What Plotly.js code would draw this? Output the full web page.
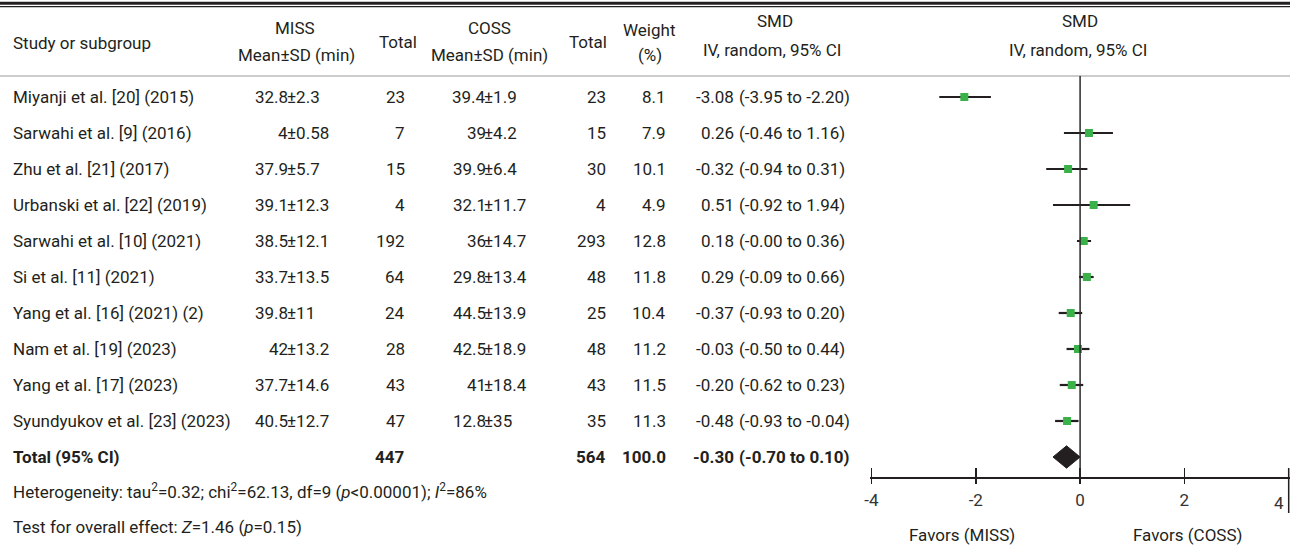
<!DOCTYPE html>
<html>
<head>
<meta charset="utf-8">
<script src="https://cdn.plot.ly/plotly-3.0.1.min.js"></script>
<style>html,body{margin:0;padding:0;background:#fff;}#chart{width:1293px;height:549px;}</style>
</head>
<body>
<div id="chart"></div>
<script>
// ---------- data ----------
const studies = ['Miyanji et al. [20] (2015)', 'Sarwahi et al. [9] (2016)', 'Zhu et al. [21] (2017)',
  'Urbanski et al. [22] (2019)', 'Sarwahi et al. [10] (2021)', 'Si et al. [11] (2021)',
  'Yang et al. [16] (2021) (2)', 'Nam et al. [19] (2023)', 'Yang et al. [17] (2023)',
  'Syundyukov et al. [23] (2023)'];
const missMeanSd = ['32.8±2.3', '4±0.58', '37.9±5.7', '39.1±12.3', '38.5±12.1', '33.7±13.5',
  '39.8±11', '42±13.2', '37.7±14.6', '40.5±12.7'];
const missTotal = ['23', '7', '15', '4', '192', '64', '24', '28', '43', '47'];
const cossMeanSd = ['39.4±1.9', '39±4.2', '39.9±6.4', '32.1±11.7', '36±14.7', '29.8±13.4',
  '44.5±13.9', '42.5±18.9', '41±18.4', '12.8±35'];
const cossTotal = ['23', '15', '30', '4', '293', '48', '25', '48', '43', '35'];
const weightPct = ['8.1', '7.9', '10.1', '4.9', '12.8', '11.8', '10.4', '11.2', '11.5', '11.3'];
const smdText = ['-3.08 (-3.95 to -2.20)', '0.26 (-0.46 to 1.16)', '-0.32 (-0.94 to 0.31)',
  '0.51 (-0.92 to 1.94)', '0.18 (-0.00 to 0.36)', '0.29 (-0.09 to 0.66)', '-0.37 (-0.93 to 0.20)',
  '-0.03 (-0.50 to 0.44)', '-0.20 (-0.62 to 0.23)', '-0.48 (-0.93 to -0.04)'];
// positions of the marks as drawn in the figure
const plotEst = [-2.22, 0.17, -0.23, 0.26, 0.07, 0.13, -0.18, -0.04, -0.16, -0.25];
const plotLo  = [-2.70, -0.31, -0.65, -0.52, -0.06, -0.02, -0.41, -0.26, -0.39, -0.48];
const plotHi  = [-1.71, 0.63, 0.14, 0.96, 0.21, 0.26, 0.04, 0.18, 0.06, -0.03];
const totalLabel = 'Total (95% CI)';
const totalMiss = '447';
const totalCoss = '564';
const totalWeight = '100.0';
const totalSmdText = '-0.30 (-0.70 to 0.10)';
const pooledEst = -0.26, pooledLo = -0.52, pooledHi = 0.00;
const heterogeneity = 'Heterogeneity: tau<sup>2</sup>=0.32; chi<sup>2</sup>=62.13, df=9 (<i>p</i>&lt;0.00001); <i>I</i><sup>2</sup>=86%';
const overallTest = 'Test for overall effect: <i>Z</i>=1.46 (<i>p</i>=0.15)';
const tickVals = [-4, -2, 0, 2, 4];
const tickText = ['-4', '-2', '0', '2', '4'];
const favorsLeft = 'Favors (MISS)';
const favorsRight = 'Favors (COSS)';

// ---------- layout helpers ----------
const W = 1293, H = 549;
const ROW0 = 97, STEP = 36;
const rowOf = px => (px - ROW0) / STEP;
const FONT = 'Roboto, "Liberation Sans", sans-serif';
const TXT = '#231f20';
const FS = 17;
const PAD = 0.03;                       // small range padding so the end ticks are kept
const TICK_L = 871.5, TICK_R = 1288.7;  // pixel positions of -4 and 4
const PXU = (TICK_R - TICK_L) / 8;
const AXIS_L = TICK_L - PAD * PXU, AXIS_R = TICK_R + PAD * PXU;
const AXIS_Y = 477, HEAD_Y = 76;

const ann = [];
function txt(text, xpx, row, anchor, extra) {
  ann.push(Object.assign({
    text: text, xref: 'paper', yref: 'y2', x: xpx / W, y: row,
    xanchor: anchor, yanchor: 'middle', showarrow: false, borderpad: 0,
    font: {family: FONT, size: FS, color: TXT}
  }, extra || {}));
}
// values aligned on the ± sign
function splitAt(str, sep, xpx, row, extra) {
  const i = str.indexOf(sep);
  txt(str.slice(0, i), xpx + 1.5, row, 'right', extra);
  txt(str.slice(i), xpx - 1.5, row, 'left', extra);
}

// headers
txt('Study or subgroup', 12, rowOf(43), 'left');
txt('MISS', 295, rowOf(28), 'center');
txt('Mean±SD (min)', 296, rowOf(55), 'center');
txt('Total', 398, rowOf(42), 'center');
txt('COSS', 490, rowOf(28), 'center');
txt('Mean±SD (min)', 490, rowOf(55), 'center');
txt('Total', 588, rowOf(42), 'center');
txt('Weight', 649, rowOf(30), 'center');
txt('(%)', 650, rowOf(55), 'center');
txt('SMD', 775, rowOf(21), 'center');
txt('IV, random, 95% CI', 772, rowOf(50), 'center');
txt('SMD', 1080, rowOf(21), 'center');
txt('IV, random, 95% CI', 1078, rowOf(50), 'center');

// study rows
studies.forEach((s, i) => {
  txt(s, 12, i, 'left');
  splitAt(missMeanSd[i], '±', 287, i);
  txt(missTotal[i], 406, i, 'right');
  splitAt(cossMeanSd[i], '±', 485, i);
  txt(cossTotal[i], 607, i, 'right');
  txt(weightPct[i], 667, i, 'right');
  const sp = smdText[i].indexOf(' (');
  txt(smdText[i].slice(0, sp), 735, i, 'right');
  txt(smdText[i].slice(sp + 1), 738, i, 'left');
});
// total row
const tRow = studies.length;
const bold = {font: {family: FONT, size: FS, color: TXT, weight: 'bold'}};
const b = s => '<b>' + s + '</b>';
txt(b(totalLabel), 12, tRow, 'left', bold);
txt(b(totalMiss), 406, tRow, 'right', bold);
txt(b(totalCoss), 607, tRow, 'right', bold);
txt(b(totalWeight), 667, tRow, 'right', bold);
const tsp = totalSmdText.indexOf(' (');
txt(b(totalSmdText.slice(0, tsp)), 735, tRow, 'right', bold);
txt(b(totalSmdText.slice(tsp + 1)), 738, tRow, 'left', bold);
// footer
txt(heterogeneity, 12, rowOf(491), 'left');
txt(overallTest, 12, rowOf(527), 'left');
txt(favorsLeft, 962, rowOf(535), 'center');
txt(favorsRight, 1187, rowOf(535), 'center');
// last tick label sits just left of the closing border line
txt(tickText[4], 1279, rowOf(503), 'center', {font: {family: FONT, size: FS, color: '#333'}});

// ---------- traces ----------
const rows = studies.map((_, i) => i);
const traces = [
  {
    type: 'scatter', mode: 'markers', x: plotEst, y: rows, xaxis: 'x', yaxis: 'y',
    marker: {symbol: 'square', size: 8, color: '#3bb14a', line: {width: 0}},
    error_x: {type: 'data', symmetric: false,
      array: plotHi.map((h, i) => h - plotEst[i]),
      arrayminus: plotLo.map((l, i) => plotEst[i] - l),
      color: TXT, thickness: 2.2, width: 0},
    hoverinfo: 'skip'
  },
  {
    type: 'scatter', mode: 'lines', xaxis: 'x', yaxis: 'y',
    x: [pooledLo, pooledEst, pooledHi, pooledEst, pooledLo],
    y: [tRow, tRow - 0.31, tRow, tRow + 0.31, tRow],
    fill: 'toself', fillcolor: TXT, line: {color: TXT, width: 1}, hoverinfo: 'skip'
  },
  {type: 'scatter', mode: 'markers', x: [0], y: [0], xaxis: 'x2', yaxis: 'y',
    marker: {opacity: 0}, hoverinfo: 'skip'}
];

const xRange = [-4 - PAD, 4 + PAD];
const layout = {
  width: W, height: H, margin: {l: 0, r: 0, t: 0, b: 0},
  paper_bgcolor: '#fff', plot_bgcolor: 'rgba(0,0,0,0)', showlegend: false,
  xaxis: {
    domain: [AXIS_L / W, AXIS_R / W], range: xRange, anchor: 'y', fixedrange: true,
    showgrid: false, zeroline: false,
    showline: true, linecolor: TXT, linewidth: 1.8,
    ticks: 'inside', ticklen: 9, tickwidth: 1.5, tickcolor: TXT,
    tickmode: 'array', tickvals: tickVals, ticktext: tickText.slice(0, 4).concat(['']),
    ticklabelstandoff: 7, ticklabeloverflow: 'allow',
    tickfont: {family: FONT, size: FS, color: '#333'}
  },
  xaxis2: {
    overlaying: 'x', anchor: 'y', side: 'bottom', range: xRange, fixedrange: true,
    showgrid: false, zeroline: false, showline: false,
    ticks: 'outside', ticklen: 6, tickwidth: 1.5, tickcolor: TXT,
    tickmode: 'array', tickvals: tickVals.slice(0, 4), showticklabels: false
  },
  yaxis: {
    domain: [(H - AXIS_Y) / H, (H - HEAD_Y) / H], range: [rowOf(AXIS_Y), rowOf(HEAD_Y)],
    anchor: 'x', visible: false, fixedrange: true
  },
  yaxis2: {
    domain: [0, 1], range: [rowOf(H), rowOf(0)], anchor: 'x2', visible: false, fixedrange: true
  },
  annotations: ann,
  shapes: [
    {type: 'line', xref: 'paper', yref: 'y2', x0: 0, x1: 1290 / W, y0: rowOf(3.2), y1: rowOf(3.2),
      line: {color: TXT, width: 3}},
    {type: 'line', xref: 'paper', yref: 'y2', x0: 0, x1: 1290 / W, y0: rowOf(6.6), y1: rowOf(6.6),
      line: {color: TXT, width: 1.2}},
    {type: 'line', xref: 'paper', yref: 'y2', x0: 0, x1: 1290 / W, y0: rowOf(HEAD_Y), y1: rowOf(HEAD_Y),
      line: {color: '#9a9a9a', width: 1.2}},
    // line of no effect
    {type: 'line', xref: 'x', yref: 'y', x0: 0, x1: 0, y0: rowOf(HEAD_Y), y1: rowOf(AXIS_Y),
      line: {color: '#2a2a2a', width: 1.5}},
    // closing border at the right end of the axis
    {type: 'line', xref: 'x', yref: 'paper', x0: 4, x1: 4, y0: (H - 468) / H, y1: (H - 513) / H,
      line: {color: TXT, width: 1.5}}
  ]
};

Plotly.newPlot('chart', traces, layout, {staticPlot: true, displayModeBar: false});
</script>
</body>
</html>
